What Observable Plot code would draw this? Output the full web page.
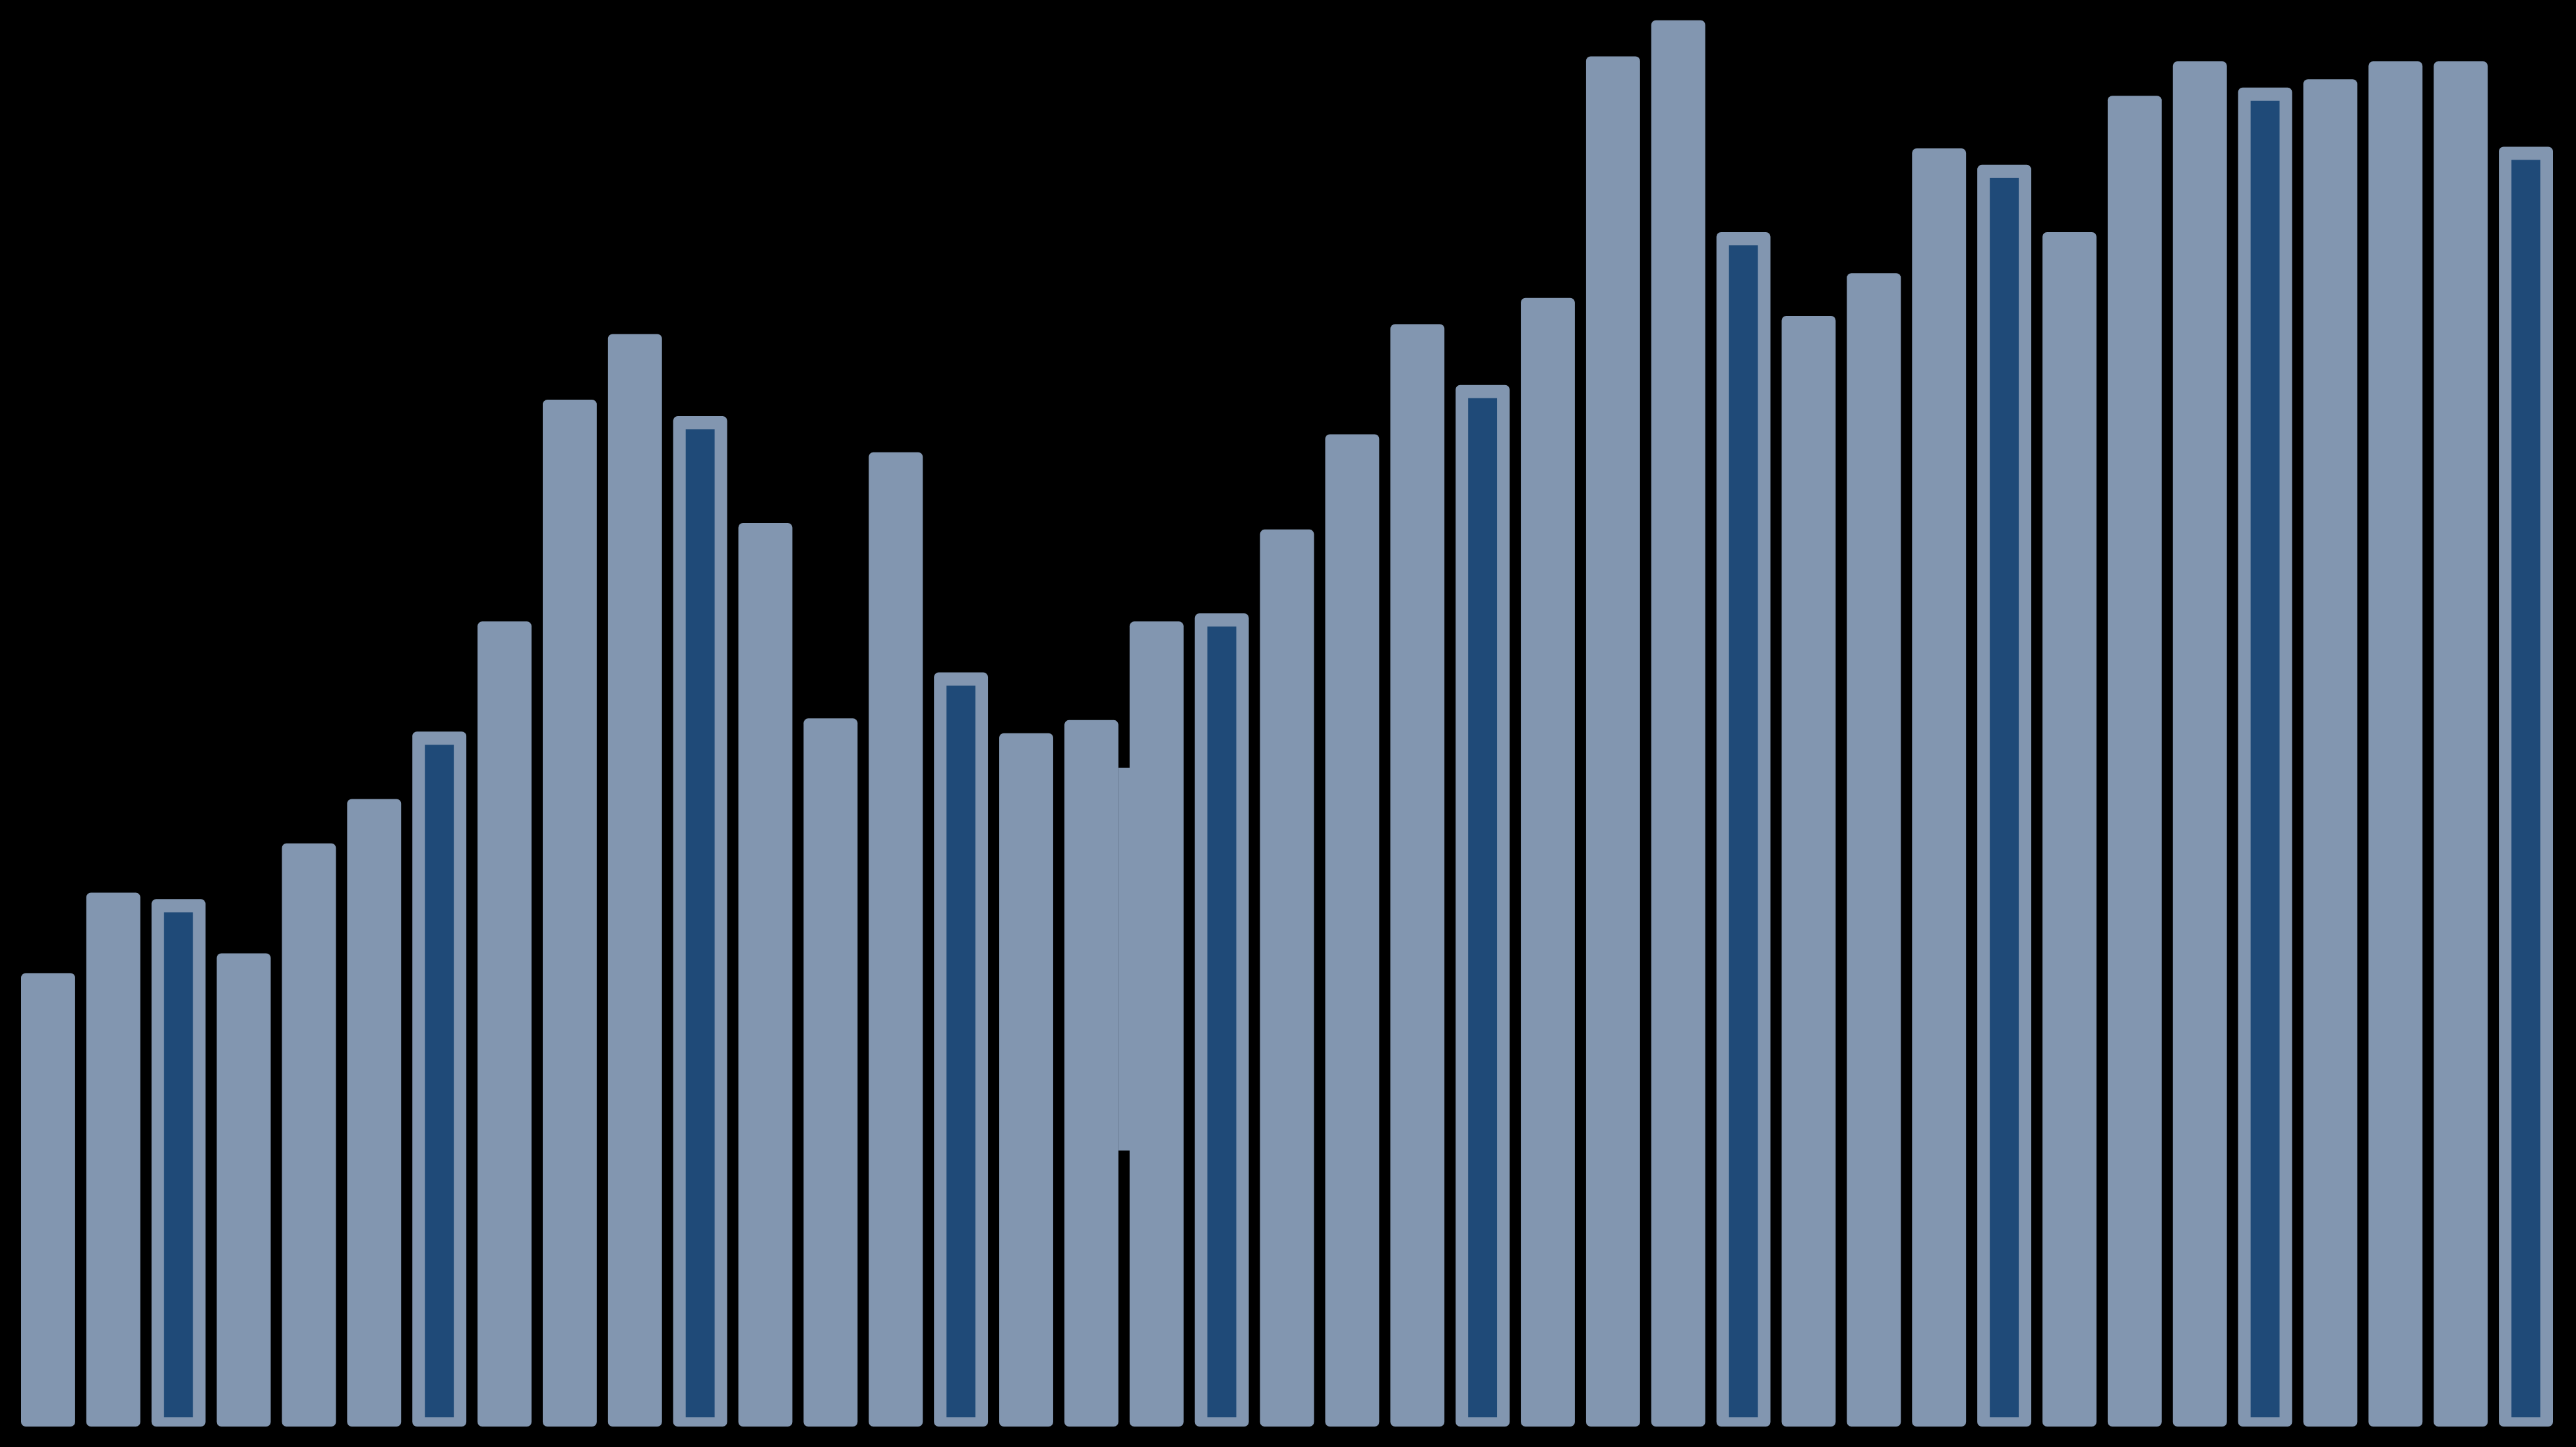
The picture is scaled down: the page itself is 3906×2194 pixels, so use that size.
<!DOCTYPE html>
<html>
<head>
<meta charset="utf-8">
<script src="https://cdn.jsdelivr.net/npm/d3@7"></script>
<script src="https://cdn.jsdelivr.net/npm/@observablehq/plot@0.6"></script>
<style>
  html, body { margin: 0; padding: 0; background: #000; overflow: hidden; }
  #chart svg { display: block; }
</style>
</head>
<body>
<div id="chart"></div>
<script>
// Bar index (categories), values and highlight flags
const categories = ["1","2","3","4","5","6","7","8","9","10","11","12","13","14","15","16","17","18","19","20",
                    "21","22","23","24","25","26","27","28","29","30","31","32","33","34","35","36","37","38","39"];
const values = [276, 325, 321, 288, 355, 382, 423, 490, 625, 665, 615, 550, 431, 593, 459, 422, 430, 490, 495, 546,
                604, 671, 634, 687, 834, 856, 727, 676, 702, 778, 768, 727, 810, 831, 815, 820, 831, 831, 779];
const highlighted = [0,0,1,0,0,0,1,0,0,0,1,0,0,0,1,0,0,0,1,0,
                     0,0,1,0,0,0,1,0,0,0,1,0,0,0,1,0,0,0,1];
// band bridging the gap between bars 17 and 18
const bridgeAfter = ["17"];
const bridgeLow = [168];
const bridgeHigh = [401];

const lightColor = "#8296b0";
const darkColor = "#1f4a78";

const data = categories.map((c, i) => ({cat: c, i, value: values[i], hi: highlighted[i] === 1}));
const bridge = bridgeAfter.map((c, k) => ({pos: categories.indexOf(c) + 0.5, low: bridgeLow[k], high: bridgeHigh[k]}));

const chart = Plot.plot({
  width: 3906,
  height: 2194,
  marginLeft: 23.5,
  marginRight: 26.5,
  marginTop: 0,
  marginBottom: 31,
  style: {background: "#000"},
  x: {type: "linear", domain: [-0.5, categories.length - 0.5], axis: null},
  y: {domain: [0, 868.3], axis: null},
  marks: [
    Plot.rectY(data, {
      x1: d => d.i - 0.5, x2: d => d.i + 0.5, y: "value",
      fill: lightColor, insetLeft: 8.5, insetRight: 8.5, rx: 7
    }),
    Plot.rectY(data.filter(d => d.hi), {
      x1: d => d.i - 0.5, x2: d => d.i + 0.5, y: "value",
      fill: darkColor, insetLeft: 27.5, insetRight: 27.5, insetTop: 20, insetBottom: 14
    }),
    Plot.ruleX(bridge, {x: "pos", y1: "low", y2: "high", stroke: lightColor, strokeWidth: 18})
  ]
});
document.getElementById("chart").appendChild(chart);
</script>
</body>
</html>
